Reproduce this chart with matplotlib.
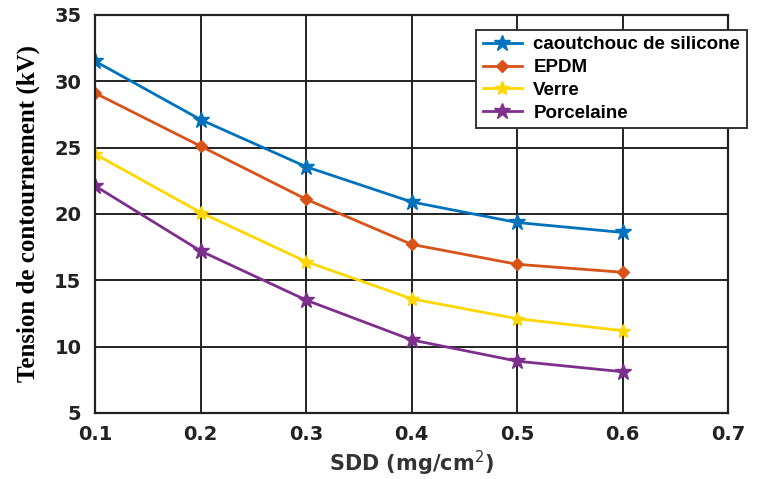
import matplotlib
matplotlib.use("Agg")
import matplotlib.pyplot as plt

sdd = [0.1, 0.2, 0.3, 0.4, 0.5, 0.6]
silicone = [31.5, 27.1, 23.55, 20.9, 19.35, 18.6]
epdm = [29.1, 25.1, 21.1, 17.7, 16.2, 15.6]
verre = [24.5, 20.1, 16.4, 13.6, 12.1, 11.2]
porcelaine = [22.1, 17.2, 13.5, 10.5, 8.9, 8.1]

xticks = [0.1, 0.2, 0.3, 0.4, 0.5, 0.6, 0.7]
yticks = [5, 10, 15, 20, 25, 30, 35]

fig = plt.figure(figsize=(7.68, 4.79), dpi=100)
ax = fig.add_axes([0.124, 0.138, 0.824, 0.831])

ax.plot(sdd, silicone, '-*', color='#0072BD', lw=2, ms=12, label='caoutchouc de silicone')
ax.plot(sdd, epdm, '-D', color='#D95319', lw=2, ms=6.5, label='EPDM')
ax.plot(sdd, verre, '-*', color='#FFD700', lw=2, ms=10, label='Verre')
ax.plot(sdd, porcelaine, '-*', color='#7E2F8E', lw=2, ms=12, label='Porcelaine')

ax.set_xlim(0.1, 0.7)
ax.set_ylim(5, 35)
ax.set_xticks(xticks)
ax.set_yticks(yticks)
ax.set_xticklabels([f'{v:.1f}' for v in xticks], fontweight='bold', fontsize=14, color='#222222')
ax.set_yticklabels([str(v) for v in yticks], fontweight='bold', fontsize=14, color='#222222')
ax.tick_params(axis='x', length=0, pad=9)
ax.tick_params(axis='y', length=0, pad=10)
ax.grid(True, color='#222222', lw=1.4)
ax.set_axisbelow(True)
for s in ax.spines.values():
    s.set_color('#222222')
    s.set_linewidth(1.6)

ax.set_xlabel('SDD (mg/cm$^{2}$)', fontsize=15, fontweight='bold', color='#333333', labelpad=3)
ax.set_ylabel('Tension de contournement (kV)', fontsize=18, fontweight='bold',
              family=['Liberation Serif', 'DejaVu Serif'], labelpad=10)

leg = fig.legend(loc='upper left', bbox_to_anchor=(0.62, 0.938),
                 prop={'family': ['Liberation Sans', 'DejaVu Sans'], 'weight': 'bold', 'size': 13.5},
                 frameon=True, fancybox=False, edgecolor='#333333', framealpha=1,
                 borderpad=0.35, labelspacing=0.3, handlelength=2.1,
                 handletextpad=0.6, borderaxespad=0)
leg.get_frame().set_linewidth(1.4)

fig.savefig('out.png', dpi=100)
